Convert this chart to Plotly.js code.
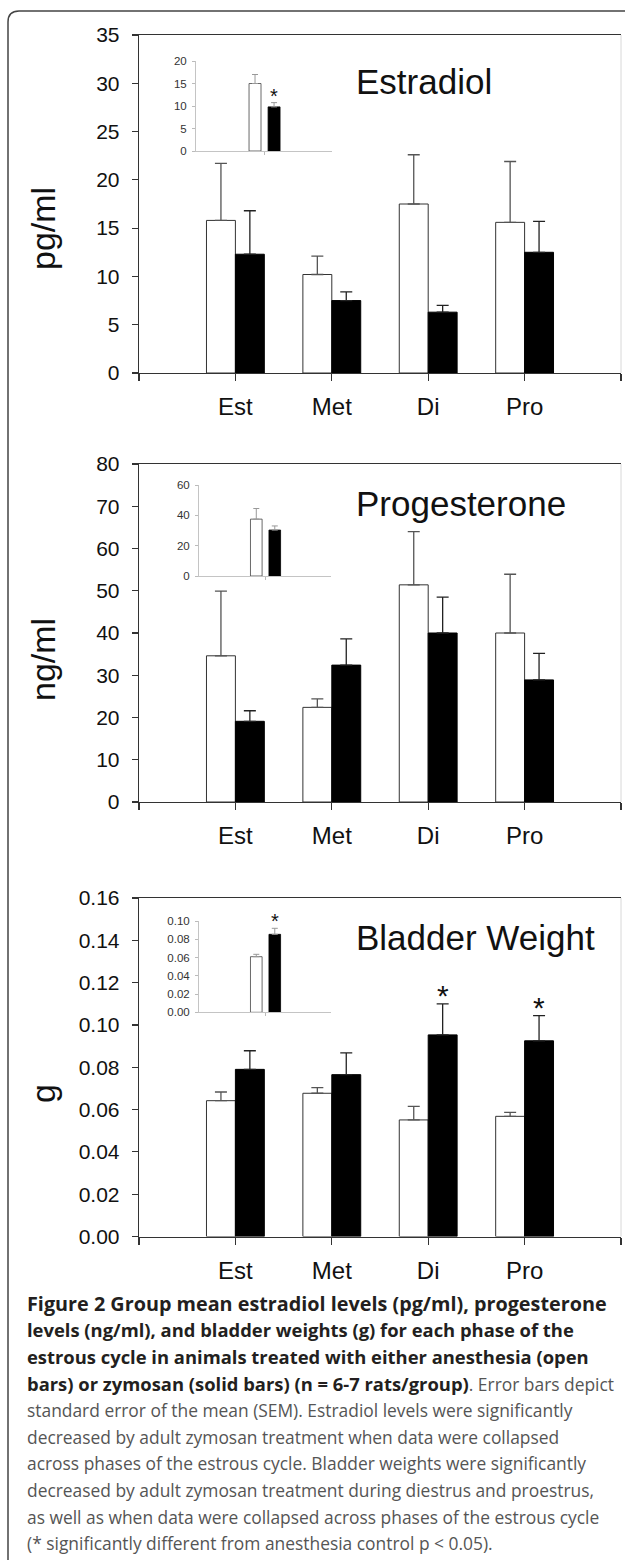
<!DOCTYPE html>
<html><head><meta charset="utf-8">
<script src="https://cdn.plot.ly/plotly-3.0.1.min.js"></script>
<style>html,body{margin:0;padding:0;background:#fff}</style>
</head><body><div id="chart" style="width:625px;height:1560px"></div>
<script>
// ---------------- DATA ----------------
const categories = ['Est', 'Met', 'Di', 'Pro'];
const groups = ['Anesthesia', 'Zymosan'];

const estradiolAnesthesia    = [15.8, 10.2, 17.5, 15.6];
const estradiolAnesthesiaSEM = [5.9, 1.9, 5.1, 6.3];
const estradiolZymosan       = [12.3, 7.5, 6.3, 12.5];
const estradiolZymosanSEM    = [4.5, 0.9, 0.7, 3.2];
const estradiolZymosanSig    = [false, false, false, false];
const estradiolInset         = [15.0, 9.8];
const estradiolInsetSEM      = [2.0, 0.95];
const estradiolInsetSig      = [false, true];

const progesteroneAnesthesia    = [34.6, 22.4, 51.4, 40.0];
const progesteroneAnesthesiaSEM = [15.3, 2.0, 12.6, 13.9];
const progesteroneZymosan       = [19.1, 32.4, 40.0, 28.9];
const progesteroneZymosanSEM    = [2.5, 6.2, 8.5, 6.3];
const progesteroneZymosanSig    = [false, false, false, false];
const progesteroneInset         = [37.5, 30.3];
const progesteroneInsetSEM      = [7.0, 2.7];
const progesteroneInsetSig      = [false, false];

const bladderAnesthesia    = [0.0642, 0.0677, 0.0551, 0.0568];
const bladderAnesthesiaSEM = [0.0041, 0.0027, 0.0064, 0.0019];
const bladderZymosan       = [0.0790, 0.0765, 0.0953, 0.0925];
const bladderZymosanSEM    = [0.0088, 0.0103, 0.0147, 0.0119];
const bladderZymosanSig    = [false, false, true, true];
const bladderInset         = [0.0609, 0.0854];
const bladderInsetSEM      = [0.0026, 0.0066];
const bladderInsetSig      = [false, true];

const REG = 'color:#555;font-size:17.4px';
const captionLines = [
  '<b><span style="font-size:19.8px">Figure 2 Group mean estradiol levels (pg/ml), progesterone</span></b>',
  '<b>levels (ng/ml), and bladder weights (g) for each phase of the</b>',
  '<b>estrous cycle in animals treated with either anesthesia (open</b>',
  '<b>bars) or zymosan (solid bars) (n = 6-7 rats/group)</b><span style="' + REG + '">. Error bars depict</span>',
  '<span style="' + REG + '">standard error of the mean (SEM). Estradiol levels were significantly</span>',
  '<span style="' + REG + '">decreased by adult zymosan treatment when data were collapsed</span>',
  '<span style="' + REG + '">across phases of the estrous cycle. Bladder weights were significantly</span>',
  '<span style="' + REG + '">decreased by adult zymosan treatment during diestrus and proestrus,</span>',
  '<span style="' + REG + '">as well as when data were collapsed across phases of the estrous cycle</span>',
  '<span style="' + REG + '">(* significantly different from anesthesia control p &lt; 0.05).</span>'
];

// ---------------- LAYOUT HELPERS ----------------
const W = 625, H = 1560;
const px = x => x / W;
const py = y => 1 - y / H;
const catPos = categories.map((c, i) => i + 1);
const FONT = 'Liberation Sans, Arial, sans-serif';

const panels = [
  {title: 'Estradiol', unit: 'pg/ml', a: estradiolAnesthesia, aE: estradiolAnesthesiaSEM, z: estradiolZymosan, zE: estradiolZymosanSEM, zSig: estradiolZymosanSig,
   ins: estradiolInset, insE: estradiolInsetSEM, insSig: estradiolInsetSig,
   range: [0, 35], dtick: 5, fmt: 'd', top: 35, bottom: 373, insRange: [0, 20], insDtick: 5, insFmt: 'd', insTop: 61, insBottom: 151, insL: 196, insR: 332, titleY: 81, unitY: 229},
  {title: 'Progesterone', unit: 'ng/ml', a: progesteroneAnesthesia, aE: progesteroneAnesthesiaSEM, z: progesteroneZymosan, zE: progesteroneZymosanSEM, zSig: progesteroneZymosanSig,
   ins: progesteroneInset, insE: progesteroneInsetSEM, insSig: progesteroneInsetSig,
   range: [0, 80], dtick: 10, fmt: 'd', top: 464, bottom: 802, insRange: [0, 60], insDtick: 20, insFmt: 'd', insTop: 485, insBottom: 576, insL: 199, insR: 331, titleY: 504, unitY: 660},
  {title: 'Bladder Weight', unit: 'g', a: bladderAnesthesia, aE: bladderAnesthesiaSEM, z: bladderZymosan, zE: bladderZymosanSEM, zSig: bladderZymosanSig,
   ins: bladderInset, insE: bladderInsetSEM, insSig: bladderInsetSig,
   range: [0, 0.16], dtick: 0.02, fmt: '.2f', top: 898, bottom: 1236.5, insRange: [0, 0.10], insDtick: 0.02, insFmt: '.2f', insTop: 921, insBottom: 1012.3, insL: 199, insR: 331, titleY: 937, unitY: 1094}
];

const data = [];
const layout = {
  width: W, height: H, margin: {l: 0, r: 0, t: 0, b: 0},
  paper_bgcolor: '#fff', plot_bgcolor: 'rgba(0,0,0,0)',
  showlegend: false, barmode: 'overlay',
  font: {family: FONT, color: '#111'},
  annotations: [], shapes: []
};

const MAIN_W = 0.3, INS_W = 0.088;

panels.forEach((p, i) => {
  const k = i + 1, ki = i + 4;
  const xa = 'x' + k, ya = 'y' + k, xi = 'x' + ki, yi = 'y' + ki;
  const zeros4 = categories.map(() => 0);
  data.push({type: 'bar', name: groups[0], x: catPos, y: p.a, xaxis: xa, yaxis: ya, width: MAIN_W, offset: -MAIN_W,
    marker: {color: '#fff', line: {color: '#333', width: 1}},
    error_y: {type: 'data', array: p.aE, arrayminus: zeros4, symmetric: false, color: '#555', thickness: 1.3, width: 6}, hoverinfo: 'skip'});
  data.push({type: 'bar', name: groups[1], x: catPos, y: p.z, xaxis: xa, yaxis: ya, width: MAIN_W, offset: 0,
    marker: {color: '#000', line: {color: '#000', width: 1}},
    error_y: {type: 'data', array: p.zE, arrayminus: zeros4, symmetric: false, color: '#222', thickness: 1.3, width: 6}, hoverinfo: 'skip'});
  data.push({type: 'bar', name: groups[0], x: [0], y: [p.ins[0]], xaxis: xi, yaxis: yi, width: INS_W, offset: -0.11,
    marker: {color: '#fff', line: {color: '#444', width: 0.8}},
    error_y: {type: 'data', array: [p.insE[0]], arrayminus: [0], symmetric: false, color: '#999', thickness: 1, width: 3}, hoverinfo: 'skip'});
  data.push({type: 'bar', name: groups[1], x: [0], y: [p.ins[1]], xaxis: xi, yaxis: yi, width: INS_W, offset: 0.03,
    marker: {color: '#000', line: {color: '#000', width: 0.8}},
    error_y: {type: 'data', array: [p.insE[1]], arrayminus: [0], symmetric: false, color: '#999', thickness: 1, width: 3}, hoverinfo: 'skip'});

  const suf = k === 1 ? '' : k;
  layout['xaxis' + suf] = {
    domain: [px(139), px(621)], anchor: ya, range: [0, 5],
    tickmode: 'array', tickvals: [0, 1, 2, 3, 4, 5], ticktext: [''].concat(categories, ['']),
    ticks: 'outside', ticklen: 7, tickcolor: '#333', tickwidth: 1.2,
    showline: true, linecolor: '#333', linewidth: 1.3, mirror: true,
    showgrid: false, zeroline: false, fixedrange: true,
    tickfont: {family: FONT, size: 24, color: '#111'}, ticklabelstandoff: 5
  };
  layout['yaxis' + suf] = {
    domain: [py(p.bottom), py(p.top)], anchor: xa, range: p.range, dtick: p.dtick, tick0: 0, tickformat: p.fmt,
    ticks: 'outside', ticklen: 6, tickcolor: '#333', tickwidth: 1.2,
    showline: true, linecolor: '#333', linewidth: 1.3,
    showgrid: false, zeroline: false, fixedrange: true,
    tickfont: {family: FONT, size: 21, color: '#111'}, ticklabelstandoff: 8
  };
  layout['xaxis' + ki] = {
    domain: [px(p.insL), px(p.insR)], anchor: yi, range: [-0.5, 0.5],
    tickmode: 'array', tickvals: [0], ticktext: [''], ticks: 'outside', ticklen: 3, tickcolor: '#bbb',
    showline: true, linecolor: '#c4c4c4', linewidth: 1, showgrid: false, zeroline: false, fixedrange: true
  };
  layout['yaxis' + ki] = {
    domain: [py(p.insBottom), py(p.insTop)], anchor: xi, range: p.insRange, dtick: p.insDtick, tick0: 0, tickformat: p.insFmt,
    ticks: 'outside', ticklen: 3, tickcolor: '#bbb',
    showline: true, linecolor: '#c4c4c4', linewidth: 1, showgrid: false, zeroline: false, fixedrange: true,
    tickfont: {family: FONT, size: 11.5, color: '#333'}, ticklabelstandoff: 3
  };

  layout.shapes.push({type: 'line', xref: 'paper', yref: 'paper', x0: px(621), x1: px(621), y0: py(p.bottom), y1: py(p.top), line: {color: '#d8d8d8', width: 1}});

  layout.annotations.push({xref: 'paper', yref: 'paper', x: px(354), y: py(p.titleY), xanchor: 'left', yanchor: 'middle',
    text: p.title, showarrow: false, font: {family: FONT, size: 35, color: '#111'}});
  layout.annotations.push({xref: 'paper', yref: 'paper', x: px(43), y: py(p.unitY), xanchor: 'center', yanchor: 'middle',
    text: p.unit, textangle: -90, showarrow: false, font: {family: FONT, size: 34, color: '#111'}});

  p.zSig.forEach((s, j) => {
    if (!s) return;
    layout.annotations.push({xref: xa, yref: ya, x: catPos[j] + MAIN_W / 2, y: p.z[j] + p.zE[j], text: '*', showarrow: false,
      xanchor: 'center', yanchor: 'bottom', yshift: -10, font: {family: FONT, size: 30, color: '#111'}});
  });
  p.insSig.forEach((s, j) => {
    if (!s) return;
    layout.annotations.push({xref: xi, yref: yi, x: j === 0 ? -0.11 + INS_W / 2 : 0.03 + INS_W / 2, y: p.ins[j] + p.insE[j], text: '*', showarrow: false,
      xanchor: 'center', yanchor: 'bottom', yshift: -6, font: {family: FONT, size: 20, color: '#111'}});
  });
});

captionLines.forEach((t, i) => {
  layout.annotations.push({xref: 'paper', yref: 'paper', x: px(25), y: py(1303 + i * 26.7), xanchor: 'left', yanchor: 'middle',
    text: t, showarrow: false, align: 'left', font: {family: 'Open Sans, sans-serif', size: 18.4, color: '#231f20'}});
});

layout.shapes.push({type: 'path', xref: 'paper', yref: 'paper', layer: 'below',
  path: `M ${px(8)},${py(1562)} L ${px(8)},${py(22)} Q ${px(8)},${py(11)} ${px(19)},${py(11)} L ${px(640)},${py(11)}`,
  line: {color: '#444', width: 1.5}});

Plotly.newPlot('chart', data, layout, {staticPlot: true, displayModeBar: false});
</script>
</body></html>
